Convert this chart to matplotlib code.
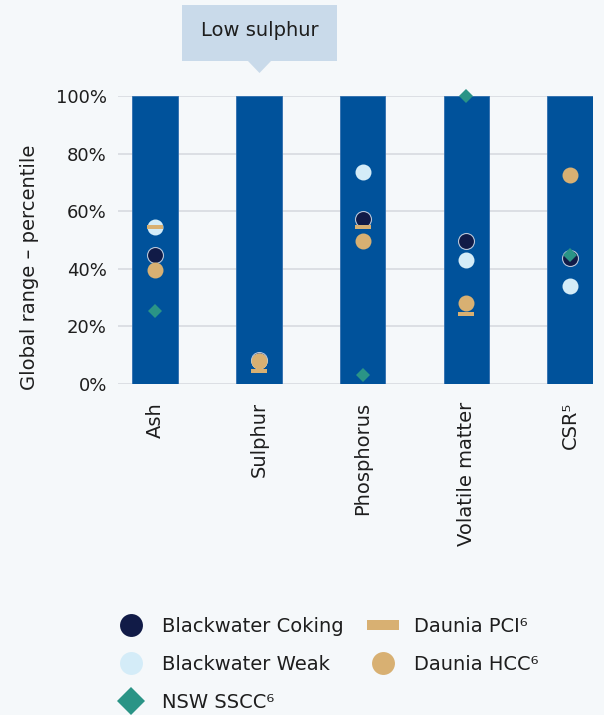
import numpy as np
import matplotlib.pyplot as plt
from matplotlib.lines import Line2D
from matplotlib.path import Path
from matplotlib.patches import Rectangle, Polygon

plt.rcParams["font.family"] = ["DejaVu Sans"]

categories = ["Ash", "Sulphur", "Phosphorus", "Volatile matter", "CSR⁵"]
bar_top = [100, 100, 100, 100, 100]

bw_coking = [44.9, 8.3, 57.3, 49.8, 43.8]
bw_weak = [54.5, 8.0, 73.5, 42.9, 33.9]
daunia_hcc = [39.6, 8.0, 49.7, 28.2, 72.7]
daunia_pci = [54.5, 4.4, 54.5, 24.2, np.nan]
nsw_sscc = [25.2, np.nan, 3.0, 100.0, 44.8]

BG = "#F5F8FA"
BAR = "#00529B"
NAVY = "#111B47"
LIGHT = "#D4ECF8"
GOLD = "#D8B072"
TEAL = "#2A9486"
TXT = "#1E1E1E"

# flat bar marker for PCI
pci_marker = Path([(-1, -0.3), (1, -0.3), (1, 0.3), (-1, 0.3), (-1, -0.3)],
                  [Path.MOVETO, Path.LINETO, Path.LINETO, Path.LINETO, Path.CLOSEPOLY])

fig = plt.figure(figsize=(6.04, 7.15), dpi=100, facecolor=BG)
ax = fig.add_axes([118 / 604, 1 - 384 / 715, (593 - 118) / 604, (384 - 96) / 715])
ax.set_facecolor(BG)

x = np.arange(len(categories))
ax.bar(x, bar_top, width=0.44, color=BAR, edgecolor="#2E6DAE", linewidth=0.6, zorder=2)

ax.plot(x, bw_coking, "o", ms=11.5, color=NAVY, mec="#B8C6DA", mew=0.8, zorder=3)
ax.plot(x, bw_weak, "o", ms=11.5, color=LIGHT, mec=LIGHT, mew=0, zorder=3)
ax.plot(x, daunia_hcc, "o", ms=11.5, color=GOLD, mec=GOLD, mew=0, zorder=4)
ax.plot(x, daunia_pci, linestyle="none", marker=pci_marker, ms=11.5, color=GOLD, mew=0, zorder=5)
ax.plot(x, nsw_sscc, "D", ms=7.6, color=TEAL, mew=0, zorder=6, clip_on=False)

ax.set_xlim(-0.356, 4.22)
ax.set_ylim(0, 100)
ax.set_yticks(np.arange(0, 101, 20))
ax.set_yticklabels([f"{v}%" for v in range(0, 101, 20)], fontsize=13, color=TXT)
ax.set_xticks(x)
ax.set_xticklabels(categories, rotation=90, va="top", fontsize=14, color=TXT)
ax.tick_params(axis="both", length=0)
ax.tick_params(axis="y", pad=8)
ax.tick_params(axis="x", pad=13)
ax.grid(axis="y", color="#DCDFE4", linewidth=1.4, zorder=0)
ax.set_axisbelow(True)
for s in ax.spines.values():
    s.set_visible(False)

fig.text(30 / 604, 1 - 267 / 715, "Global range – percentile", rotation=90,
         ha="center", va="center", fontsize=14, color=TXT)

# callout above Sulphur
callout = "#C9DAEA"
fig.add_artist(Rectangle((182 / 604, 1 - 61 / 715), 155 / 604, 56 / 715,
                         transform=fig.transFigure, facecolor=callout, edgecolor="none"))
fig.add_artist(Polygon([(247 / 604, 1 - 60 / 715), (272 / 604, 1 - 60 / 715), (259.5 / 604, 1 - 73 / 715)],
                       closed=True, transform=fig.transFigure, facecolor=callout, edgecolor="none"))
fig.text(259.5 / 604, 1 - 30 / 715, "Low sulphur", ha="center", va="center", fontsize=14, color=TXT)

handles = [
    Line2D([], [], linestyle="none", marker="o", ms=16.5, color=NAVY, mew=0),
    Line2D([], [], linestyle="none", marker="o", ms=16.5, color=LIGHT, mew=0),
    Line2D([], [], linestyle="none", marker="D", ms=14, color=TEAL, mew=0),
    Line2D([], [], linestyle="none", marker=pci_marker, ms=23.5, color=GOLD, mew=0),
    Line2D([], [], linestyle="none", marker="o", ms=16.5, color=GOLD, mew=0),
]
labels = ["Blackwater Coking", "Blackwater Weak", "NSW SSCC⁶", "Daunia PCI⁶", "Daunia HCC⁶"]
fig.legend(handles, labels, loc="upper left", bbox_to_anchor=(115.5 / 604, 1 - 617 / 715),
           ncol=2, frameon=False, fontsize=14, labelcolor=TXT, handlelength=1.6,
           handletextpad=0.8, columnspacing=1.2, labelspacing=0.97, borderpad=0,
           borderaxespad=0)

fig.savefig("out.png", dpi=100, facecolor=BG)
